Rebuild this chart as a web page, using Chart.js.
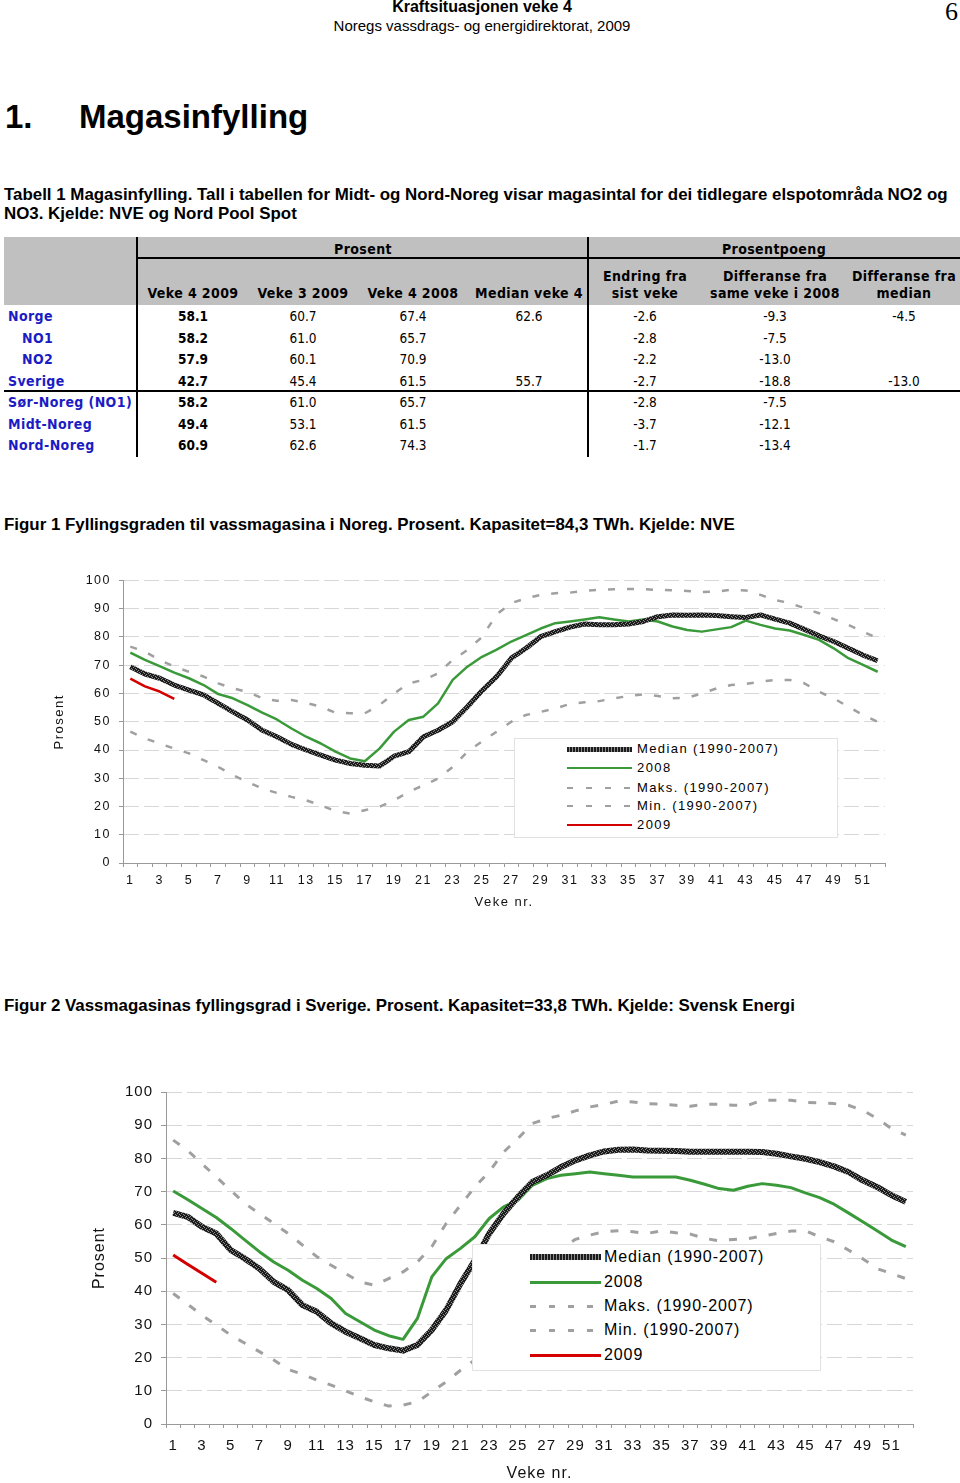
<!DOCTYPE html>
<html>
<head>
<meta charset="utf-8">
<script src="https://cdn.jsdelivr.net/npm/chart.js@4.4.1/dist/chart.umd.min.js"></script>
<style>
  body { margin: 0; width: 960px; height: 1483px; overflow: hidden; position: relative; background: #fff; color: #000; font-family: "Liberation Sans", Arial, sans-serif; }
  .abs { position: absolute; white-space: nowrap; }
  .cap { font-weight: bold; font-size: 16.9px; line-height: 19px; left: 4px; }
  #tabell { position: absolute; left: 0; top: 0; width: 960px; height: 470px; font-family: "DejaVu Sans Condensed", "DejaVu Sans", sans-serif; font-size: 13.5px; }
  .cell { position: absolute; white-space: nowrap; line-height: 16px; }
  .cell.txt { font-size: 14px; letter-spacing: 0.4px; }
  .legend { position: absolute; background: #fff; border: 1px solid #e2e2e2; z-index: 2; }
  .legend .row { position: absolute; left: 0; white-space: nowrap; }
  .legend .smp { position: absolute; }
  canvas { position: absolute; }
</style>
</head>
<body>

<div class="abs" style="left:0;width:964px;top:-2px;text-align:center;font-weight:bold;font-size:16px;line-height:18px;">Kraftsituasjonen veke 4</div>
<div class="abs" style="left:0;width:964px;top:17px;text-align:center;font-size:15px;line-height:18px;">Noregs vassdrags- og energidirektorat, 2009</div>
<div class="abs" style="right:2px;top:-3px;font-family:'Liberation Serif',serif;font-size:26px;line-height:30px;">6</div>

<div class="abs" style="left:5px;top:97px;font-weight:bold;font-size:33px;line-height:40px;">1.</div>
<div class="abs" style="left:79px;top:97px;font-weight:bold;font-size:33px;line-height:40px;">Magasinfylling</div>

<div class="abs cap" style="top:185px;">Tabell 1 Magasinfylling. Tall i tabellen for Midt- og Nord-Noreg visar magasintal for dei tidlegare elspotområda NO2 og<br>NO3. Kjelde: NVE og Nord Pool Spot</div>

<div id="tabell"></div>

<div class="abs cap" style="top:515px;">Figur 1 Fyllingsgraden til vassmagasina i Noreg. Prosent. Kapasitet=84,3 TWh. Kjelde: NVE</div>
<div class="abs cap" style="top:996px;">Figur 2 Vassmagasinas fyllingsgrad i Sverige. Prosent. Kapasitet=33,8 TWh. Kjelde: Svensk Energi</div>

<canvas id="fig1" width="880" height="350" style="left:40px;top:565px;"></canvas>
<div class="legend" id="leg1" style="left:514px;top:738px;width:322px;height:98px;"></div>

<canvas id="fig2" width="860" height="408" style="left:80px;top:1075px;"></canvas>
<div class="legend" id="leg2" style="left:472px;top:1244px;width:347px;height:125px;"></div>

<script>
// ---- tabell 1 ----
const tabRegionar = ['Norge', 'NO1', 'NO2', 'Sverige', 'Sør-Noreg (NO1)', 'Midt-Noreg', 'Nord-Noreg'];
const tabVeke4_2009 = ['58.1', '58.2', '57.9', '42.7', '58.2', '49.4', '60.9'];
const tabVeke3_2009 = ['60.7', '61.0', '60.1', '45.4', '61.0', '53.1', '62.6'];
const tabVeke4_2008 = ['67.4', '65.7', '70.9', '61.5', '65.7', '61.5', '74.3'];
const tabMedianVeke4 = ['62.6', '', '', '55.7', '', '', ''];
const tabEndring = ['-2.6', '-2.8', '-2.2', '-2.7', '-2.8', '-3.7', '-1.7'];
const tabDiff2008 = ['-9.3', '-7.5', '-13.0', '-18.8', '-7.5', '-12.1', '-13.4'];
const tabDiffMedian = ['-4.5', '', '', '-13.0', '', '', ''];

// ---- figur 1 / figur 2 ----
const veker = ['1','2','3','4','5','6','7','8','9','10','11','12','13','14','15','16','17','18','19','20','21','22','23','24','25','26',
  '27','28','29','30','31','32','33','34','35','36','37','38','39','40','41','42','43','44','45','46','47','48','49','50','51','52'];
const yTicks = [0, 10, 20, 30, 40, 50, 60, 70, 80, 90, 100];
const legendTekst = ['Median (1990-2007)', '2008', 'Maks. (1990-2007)', 'Min. (1990-2007)', '2009'];

const noregMedian = [69.5,66.9,65.4,63,61.2,59.5,56.5,53.5,50.6,47, 44.7,42,40,38.2,36.4,35.2,34.6,34.3,37.8,39.4,
  44.7,47,50,55.3,61,66,72.5,76,80.1,81.9, 83.5,84.6,84.3,84.3,84.6,85.5,87.2,87.8,87.7,87.8,
  87.6,87.2,86.9,87.8,86.3,84.9,82.7,80.4,78.4,76, 73.6,71.6];
const noreg2008 = [74.5,71.9,69.7,67.4,65.4,63,59.8,58.3,55.9,53.2, 50.8,47.6,44.7,42.3,39.4,37,36,40.5,46.5,50.6,
  51.8,56.5,64.8,69.5,73,75.5,78.4,80.7,83,84.9, 85.5,86.2,87,86.2,85.5,86.2,85.5,83.7,82.5,81.9,
  82.7,83.5,85.8,84.3,83,82.3,80.7,79,76,72.5, 70.1,67.7];
const noregMaks = [76.6,74.8,71.9,69.5,67.7,66,63.6,61.8,60.6,58.3, 57.4,57.7,56.7,55.3,53.2,53,53,55.9,60,63.6,
  64.8,67.1,71.9,75.4,80,88,92,93.7,94.9,95.5, 95.7,96.3,96.7,96.9,97,96.9,96.7,96.5,96.3,95.9,
  96.1,96.7,96.5,94.9,93.1,92,90.2,88.4,86.3,84.3, 81.9,79.6];
const noregMin = [46.5,44.1,42.3,40.5,38.8,36.4,34,31.1,28.7,26.4, 24.8,23.4,22.2,20.4,18.4,17.5,18.7,19.9,22.2,25.2,
  27.5,29.9,34,39.4,43,46.5,50,52.4,53.5,54.7, 56.3,56.9,57.3,58.3,59.1,59.7,59.1,58.3,58.5,60,
  61.8,63,63.4,64.2,64.8,64.8,63.6,60.6,58.3,55.3, 52.4,50];
const noreg2009 = [65.3, 62.5, 60.7, 58.1];

const sverigeMedian = [63.6,62.4,59.4,57.4,52.4,49.8,46.8,42.8,40.3,35.8, 33.8,30.3,27.8,25.8,23.8,22.8,22.1,23.8,28.3,34.3,
  42.3,49.3,57.4,63.4,68.4,72.9,74.9,77.4,79.4,80.9, 82.1,82.6,82.7,82.4,82.3,82.2,82,82,82,82,
  82,81.9,81.4,80.6,79.9,78.9,77.6,75.9,73.4,71.4, 68.9,66.9];
const sverige2008 = [70.2,67.6,64.9,62.2,58.9,55.4,51.9,48.8,46.3,43.3, 40.8,37.8,33.3,30.8,28.3,26.6,25.5,31.8,44.3,49.8,
  52.9,56.4,61.9,65.4,67.4,71.9,73.9,74.9,75.4,75.9, 75.4,74.9,74.4,74.4,74.4,74.4,73.4,72.2,70.9,70.4,
  71.6,72.4,71.9,71.2,69.6,68.2,66.2,63.6,60.9,58.2, 55.4,53.4];
const sverigeMaks = [85.5,82.4,78.4,74.4,70.4,66.4,63.4,60.4,57.4,53.9, 50.4,47.8,45.3,42.8,41.8,43.8,45.8,48.8,53.4,60.4,
  65.9,71.4,76,81.9,86,90.5,92,93,94.3,95.5, 96.2,97.3,97,96.5,96.3,96,95.7,96.3,96.3,96,
  96,97.5,97.5,97.5,96.9,96.7,96.5,96,94.5,92, 89,87];
const sverigeMin = [39.3,36.1,32.8,29.8,26.8,24.3,21.8,19.3,16.4,15, 13.2,11.7,10,8.2,6.7,5.4,5.7,6.7,9.7,12.7,
  16.2,19.3,24,31,38,44,49,53,55.6,56.9, 57.9,58.2,57.9,57.4,58.2,57.6,57.2,55.9,55.2,55.6,
  55.8,56.6,57.4,58.1,58.2,56.4,54.9,52.4,49.8,46.8, 45.3,43.8];
const sverige2009 = [50.9, 48.1, 45.4, 42.7];

// ---------- tabell ----------
const tab = document.getElementById('tabell');

function boks(x, y, w, h, farge) {
  const d = document.createElement('div');
  d.style.cssText = `position:absolute;left:${x}px;top:${y}px;width:${w}px;height:${h}px;background:${farge}`;
  tab.appendChild(d);
}

function tekst(t, cx, cy, opts = {}) {
  const d = document.createElement('div');
  d.className = opts.txt ? 'cell txt' : 'cell';
  d.textContent = t;
  if (opts.bold) d.style.fontWeight = 'bold';
  if (opts.color) d.style.color = opts.color;
  if (opts.left !== undefined) {
    d.style.left = opts.left + 'px';
  } else {
    d.style.left = (cx - 150) + 'px';
    d.style.width = '300px';
    d.style.textAlign = 'center';
  }
  d.style.top = (cy - 8) + 'px';
  tab.appendChild(d);
}

boks(4, 237, 956, 68, '#c0c0c0');
boks(137, 257, 823, 2, '#000');
boks(136, 237, 2, 220, '#000');
boks(587, 237, 2, 220, '#000');
boks(4, 390, 956, 2, '#000');

tekst('Prosent', 363, 249, { bold: true, txt: true });
tekst('Prosentpoeng', 774, 249, { bold: true, txt: true });

const kolX = [193, 303, 413, 529, 645, 775, 904];
const kolHode = [['Veke 4 2009'], ['Veke 3 2009'], ['Veke 4 2008'], ['Median veke 4'],
  ['Endring fra', 'sist veke'], ['Differanse fra', 'same veke i 2008'], ['Differanse fra', 'median']];
kolHode.forEach((h, i) => {
  if (h.length === 1) {
    tekst(h[0], kolX[i], 293, { bold: true, txt: true });
  } else {
    tekst(h[0], kolX[i], 276, { bold: true, txt: true });
    tekst(h[1], kolX[i], 293, { bold: true, txt: true });
  }
});

const radY = [316, 338, 359, 381, 402, 424, 445];
const kolonner = [tabVeke4_2009, tabVeke3_2009, tabVeke4_2008, tabMedianVeke4, tabEndring, tabDiff2008, tabDiffMedian];
tabRegionar.forEach((r, i) => {
  const innrykk = (r === 'NO1' || r === 'NO2') ? 22 : 8;
  tekst(r, 0, radY[i], { bold: true, txt: true, color: '#1c1cc4', left: innrykk });
  kolonner.forEach((k, j) => {
    if (k[i]) tekst(k[i], kolX[j], radY[i], { bold: j === 0 });
  });
});

// ---------- figurar ----------
function medianMonster() {
  const c = document.createElement('canvas');
  c.width = 4; c.height = 4;
  const g = c.getContext('2d');
  g.fillStyle = '#1c1c1c';
  g.fillRect(0, 0, 4, 4);
  g.fillStyle = '#8c8c8c';
  g.fillRect(0, 0, 1, 1);
  g.fillRect(2, 1, 1, 1);
  g.fillRect(1, 2, 1, 1);
  g.fillRect(3, 3, 1, 1);
  return g.createPattern(c, 'repeat');
}

const bokstavMellomrom = {
  id: 'bokstavMellomrom',
  beforeUpdate(chart, args, opts) { chart.ctx.letterSpacing = opts.space; },
  beforeDraw(chart, args, opts) { chart.ctx.letterSpacing = opts.space; }
};

function lagFigur(id, data, g) {
  const ds = [
    { label: legendTekst[0], data: data.median, borderColor: medianMonster(), borderWidth: g.medianW, order: 1 },
    { label: legendTekst[1], data: data.y2008, borderColor: '#3a9a3a', borderWidth: g.lineW, order: 2 },
    { label: legendTekst[2], data: data.maks, borderColor: '#a0a0a0', borderWidth: g.dashW, borderDash: g.dash, order: 3 },
    { label: legendTekst[3], data: data.min, borderColor: '#a0a0a0', borderWidth: g.dashW, borderDash: g.dash, order: 4 },
    { label: legendTekst[4], data: data.y2009, borderColor: '#d40000', borderWidth: g.lineW, order: 0 }
  ];

  return new Chart(document.getElementById(id), {
    type: 'line',
    data: { labels: veker, datasets: ds },
    plugins: [bokstavMellomrom],
    options: {
      responsive: false,
      animation: false,
      devicePixelRatio: 1,
      layout: { padding: { left: 0, right: g.padRight, top: 0, bottom: 0 } },
      elements: { point: { radius: 0 }, line: { tension: 0, borderCapStyle: 'butt', borderJoinStyle: 'round' } },
      plugins: {
        legend: { display: false },
        tooltip: { enabled: false },
        bokstavMellomrom: { space: g.spacing }
      },
      scales: {
        x: {
          type: 'category',
          offset: true,
          afterFit: s => { s.height = g.xH; },
          grid: { display: true, drawOnChartArea: false, drawTicks: true, tickLength: 4, tickColor: '#999', offset: true },
          border: { color: '#999', width: 1 },
          ticks: {
            autoSkip: false, maxRotation: 0, padding: g.xPad, color: '#111',
            font: { family: 'Liberation Sans', size: g.tickSize },
            callback: (v, i) => (i % 2 === 0 ? veker[i] : '')
          },
          title: { display: true, text: 'Veke nr.', color: '#111', font: { family: 'Liberation Sans', size: g.titleSize }, padding: { top: 0, bottom: g.xTitlePad } }
        },
        y: {
          min: 0, max: 100,
          afterFit: s => { s.width = g.yW; },
          afterBuildTicks: s => { s.ticks = yTicks.map(v => ({ value: v })); },
          grid: { color: '#d8d8d8', lineWidth: 1, drawTicks: true, tickLength: g.yTick, tickColor: '#999' },
          border: { color: '#999', width: 1, dash: [15, 5] },
          ticks: { padding: 8, color: '#111', font: { family: 'Liberation Sans', size: g.tickSize } },
          title: { display: true, text: 'Prosent', color: '#111', font: { family: 'Liberation Sans', size: g.titleSize }, padding: { top: g.yTitlePad, bottom: 0 } }
        }
      }
    }
  });
}

lagFigur('fig1',
  { median: noregMedian, y2008: noreg2008, maks: noregMaks, min: noregMin, y2009: noreg2009 },
  { medianW: 5, lineW: 2.5, dashW: 2.5, dash: [7, 12], padRight: 35, xH: 52, yW: 83,
    xPad: 6, yTick: 4, tickSize: 12.5, titleSize: 13, xTitlePad: 5, yTitlePad: 12, spacing: '1.5px' });

lagFigur('fig2',
  { median: sverigeMedian, y2008: sverige2008, maks: sverigeMaks, min: sverigeMin, y2009: sverige2009 },
  { medianW: 6, lineW: 3, dashW: 3, dash: [8, 12], padRight: 27, xH: 59, yW: 86,
    xPad: 9, yTick: 5, tickSize: 15, titleSize: 16, xTitlePad: 0, yTitlePad: 10, spacing: '1px' });

// ---------- legender ----------
const smpStil = [
  'background:repeating-linear-gradient(90deg,#1c1c1c 0 2px,#8c8c8c 2px 3px);',
  'background:#3a9a3a;',
  'background:repeating-linear-gradient(90deg,#a0a0a0 0 6px,transparent 6px 19px);',
  'background:repeating-linear-gradient(90deg,#a0a0a0 0 6px,transparent 6px 19px);',
  'background:#d40000;'
];

function lagLegend(id, g) {
  const el = document.getElementById(id);
  legendTekst.forEach((t, i) => {
    const s = document.createElement('div');
    s.className = 'smp';
    const h = i === 0 ? g.medH : g.linH;
    s.style.cssText = `left:${g.smpX}px;width:${g.smpW}px;top:${g.rows[i] - h / 2}px;height:${h}px;` + smpStil[i];
    el.appendChild(s);
    const r = document.createElement('div');
    r.className = 'row';
    r.textContent = t;
    r.style.cssText = `left:${g.txtX}px;top:${g.rows[i] - 10}px;line-height:20px;font-size:${g.size}px;letter-spacing:${g.spacing};`;
    el.appendChild(r);
  });
}

lagLegend('leg1', { smpX: 52, smpW: 65, txtX: 122, rows: [10, 29, 49, 67, 86], medH: 5, linH: 2.5, size: 13, spacing: '1.4px' });
lagLegend('leg2', { smpX: 57, smpW: 71, txtX: 131, rows: [12, 37, 61, 85, 110], medH: 6, linH: 3, size: 16, spacing: '0.9px' });
</script>
</body>
</html>
